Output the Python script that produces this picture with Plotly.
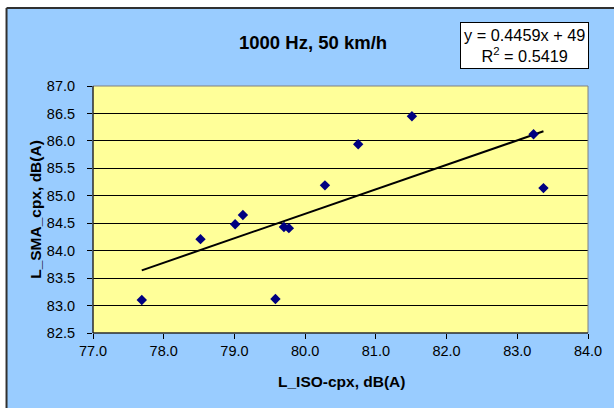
import plotly.graph_objects as go

# Measured levels: ISO CPX (x) vs SMA CPX (y), 1000 Hz band at 50 km/h
l_iso_cpx = [77.69, 78.52, 79.01, 79.12, 79.58, 79.70, 79.77, 80.28, 80.75, 81.51, 83.23, 83.37]
l_sma_cpx = [83.10, 84.21, 84.48, 84.65, 83.12, 84.43, 84.41, 85.19, 85.94, 86.45, 86.12, 85.14]

# Linear trend reported for the data
slope = 0.4459
intercept = 49
r_squared = 0.5419

x_ticks = [77.0, 78.0, 79.0, 80.0, 81.0, 82.0, 83.0, 84.0]
y_ticks = [82.5, 83.0, 83.5, 84.0, 84.5, 85.0, 85.5, 86.0, 86.5, 87.0]

FONT = "Liberation Sans, Arial, sans-serif"
BLUE = "#99CCFF"
YELLOW = "#FFFF99"

x_lo, x_hi = min(l_iso_cpx), max(l_iso_cpx)
trend_x = [x_lo, x_hi]
trend_y = [slope * v + intercept for v in trend_x]

fig = go.Figure()
fig.add_trace(go.Scatter(
    x=trend_x, y=trend_y, mode="lines",
    line=dict(color="black", width=2), hoverinfo="skip", showlegend=False,
))
fig.add_trace(go.Scatter(
    x=l_iso_cpx, y=l_sma_cpx, mode="markers",
    marker=dict(symbol="diamond", size=8, color="#000080",
                line=dict(color="#000080", width=0)),
    showlegend=False,
))

axis_font = dict(family=FONT, size=14.5, color="black")

fig.update_xaxes(
    range=[77.0, 84.0], tickvals=x_ticks, ticktext=[f"{v:.1f}" for v in x_ticks],
    showgrid=False, zeroline=False, showline=False,
    ticks="outside", ticklen=5, tickcolor="black", tickwidth=1,
    tickfont=axis_font,
)
fig.update_yaxes(
    range=[82.5, 87.0], tickvals=y_ticks, ticktext=[f"{v:.1f}" for v in y_ticks],
    showgrid=True, gridcolor="#000000", gridwidth=1, zeroline=False, showline=False,
    ticks="outside", ticklen=5, tickcolor="black", tickwidth=1,
    tickfont=axis_font, ticklabelstandoff=9,
)

shapes = [
    # white surround above and to the left of the chart frame
    dict(type="rect", xref="paper", yref="paper", x0=-0.3, x1=1.2, y0=1.3155, y1=1.5,
         fillcolor="white", line=dict(width=0), layer="below"),
    dict(type="rect", xref="paper", yref="paper", x0=-0.3, x1=-0.1747, y0=-0.5, y1=1.5,
         fillcolor="white", line=dict(width=0), layer="below"),
    # chart frame edges
    dict(type="line", xref="paper", yref="paper", x0=-0.1747, x1=1.2, y0=1.3155, y1=1.3155,
         line=dict(color="#303030", width=2)),
    dict(type="line", xref="paper", yref="paper", x0=-0.1747, x1=-0.1747, y0=-0.5, y1=1.3155,
         line=dict(color="#303030", width=2)),
    # plot area border
    dict(type="rect", xref="paper", yref="paper", x0=0, x1=1, y0=0, y1=1,
         line=dict(color="#808080", width=1), layer="above"),
    # value axes
    dict(type="line", xref="paper", yref="paper", x0=0, x1=0, y0=0, y1=1,
         line=dict(color="black", width=1), layer="above"),
    dict(type="line", xref="paper", yref="paper", x0=0, x1=1, y0=0, y1=0,
         line=dict(color="black", width=1), layer="above"),
]

annotations = [
    dict(text="<b>1000 Hz, 50 km/h</b>", xref="paper", yref="paper",
         x=0.445, y=1.178, xanchor="center", yanchor="middle", showarrow=False,
         font=dict(family=FONT, size=18.5, color="black")),
    dict(text=f"y = {slope}x + {intercept}<br>R<sup>2</sup> = {r_squared}",
         xref="paper", yref="paper",
         x=0.872, y=1.162, xanchor="center", yanchor="middle", showarrow=False,
         align="center", bgcolor="white", bordercolor="black", borderwidth=1, borderpad=3,
         font=dict(family=FONT, size=16.3, color="black")),
    dict(text="<b>L_ISO-cpx, dB(A)</b>", xref="paper", yref="paper",
         x=0.502, y=-0.198, xanchor="center", yanchor="middle", showarrow=False,
         font=dict(family=FONT, size=15.5, color="black")),
    dict(text="<b>L_SMA_cpx, dB(A)</b>", xref="paper", yref="paper",
         x=-0.1165, y=0.5, xanchor="center", yanchor="middle", showarrow=False,
         textangle=-90, font=dict(family=FONT, size=15.5, color="black")),
]

fig.update_layout(
    width=614, height=408,
    margin=dict(l=93, r=23, t=86, b=75),
    paper_bgcolor=BLUE, plot_bgcolor=YELLOW,
    font=dict(family=FONT, size=14.5, color="black"),
    shapes=shapes, annotations=annotations,
    showlegend=False,
)

fig.write_html("out.html")
